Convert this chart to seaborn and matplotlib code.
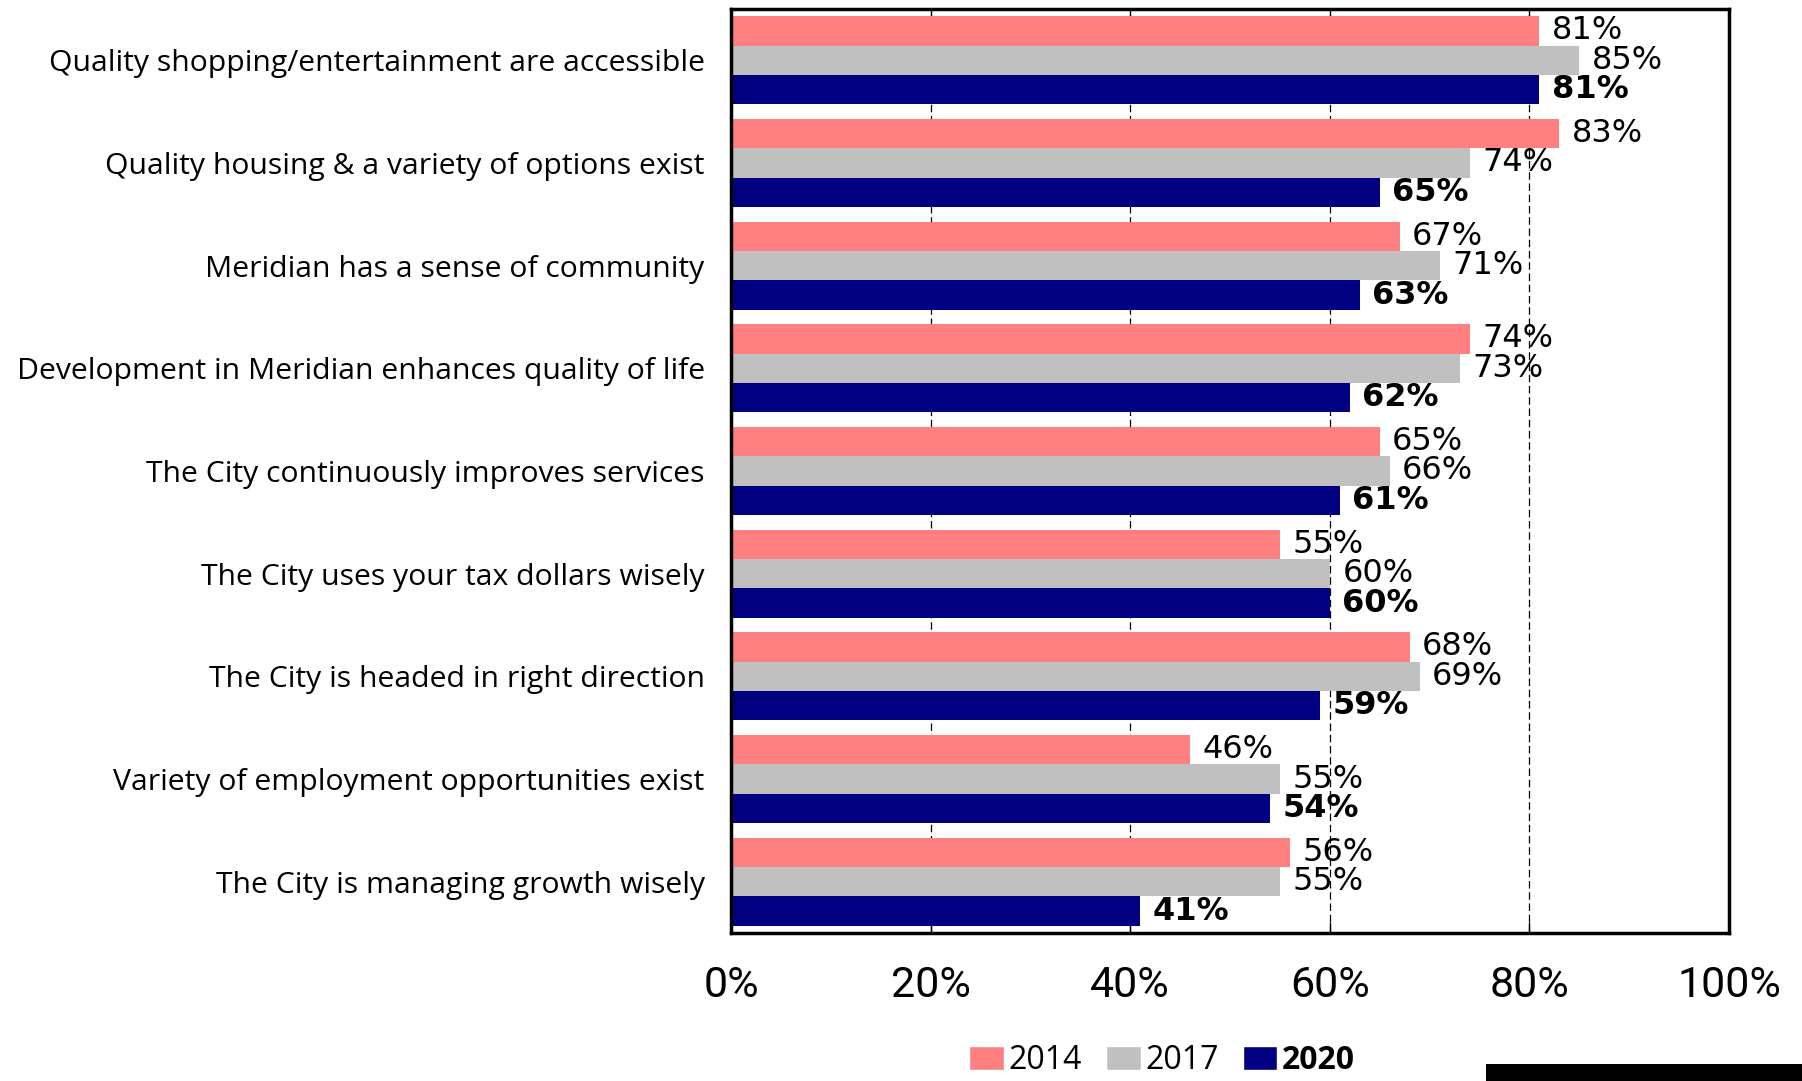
import pandas as pd
import matplotlib
matplotlib.use("Agg")
import matplotlib.pyplot as plt
from matplotlib.patches import Rectangle
from matplotlib.ticker import FuncFormatter
import seaborn as sns

categories = [
    "Quality shopping/entertainment are accessible",
    "Quality housing & a variety of options exist",
    "Meridian has a sense of community",
    "Development in Meridian enhances quality of life",
    "The City continuously improves services",
    "The City uses your tax dollars wisely",
    "The City is headed in right direction",
    "Variety of employment opportunities exist",
    "The City is managing growth wisely",
]
years = ["2014", "2017", "2020"]
vals_2014 = [81, 83, 67, 74, 65, 55, 68, 46, 56]
vals_2017 = [85, 74, 71, 73, 66, 60, 69, 55, 55]
vals_2020 = [81, 65, 63, 62, 61, 60, 59, 54, 41]
colors = ["#FF8080", "#C0C0C0", "#000080"]
x_ticks = [0, 20, 40, 60, 80, 100]

series = {"2014": vals_2014, "2017": vals_2017, "2020": vals_2020}
rows = []
for yr in years:
    for cat, v in zip(categories, series[yr]):
        rows.append({"Category": cat, "Year": yr, "Value": v})
df = pd.DataFrame(rows)

sns.set_style("white")
plt.rcParams["text.color"] = "black"
plt.rcParams["xtick.color"] = "black"
plt.rcParams["ytick.color"] = "black"
tick_font = ["Roboto", "DejaVu Sans"]
label_font = ["Open Sans", "DejaVu Sans"]

fig = plt.figure(figsize=(18.02, 10.81), dpi=100)
ax = fig.add_axes([0.4057, 0.1369, 0.5538, 0.8548])

sns.barplot(
    data=df, x="Value", y="Category", hue="Year", orient="h",
    hue_order=years, order=categories, palette=colors, saturation=1,
    width=0.86, errorbar=None, legend=False, linewidth=0, ax=ax,
)

# value labels
for yr, cont in zip(years, ax.containers):
    labs = [f"{v}%" for v in series[yr]]
    ax.bar_label(
        cont, labels=labs, padding=9, fontsize=23,
        fontweight="bold" if yr == "2020" else "normal",
        family="DejaVu Sans", color="black",
    )

ax.set_xlim(0, 100)
ax.set_xticks(x_ticks)
ax.xaxis.set_major_formatter(FuncFormatter(lambda x, p: f"{x:.0f}%"))
ax.set_xlabel("")
ax.set_ylabel("")

ax.set_axisbelow(True)
ax.xaxis.grid(True, color="black", linewidth=0.9, linestyle=(0, (6, 3)))
ax.yaxis.grid(False)

ax.tick_params(axis="x", direction="in", length=8, width=1, top=True,
               bottom=True, labelsize=31, pad=23, colors="black")
ax.tick_params(axis="y", length=0, pad=19, colors="black")
for lab in ax.get_xticklabels():
    lab.set_family(tick_font)
for lab in ax.get_yticklabels():
    lab.set_family(label_font)
    lab.set_fontsize(21.7)

for sp in ax.spines.values():
    sp.set_visible(True)
    sp.set_color("black")
    sp.set_linewidth(2.5)

# legend
handles = [Rectangle((0, 0), 1, 1, facecolor=c) for c in colors]
leg = fig.legend(
    handles, years, loc="center", bbox_to_anchor=(0.645, 0.019),
    ncol=3, frameon=False, prop={"family": label_font, "size": 23},
    handlelength=1.08, handleheight=0.8, handletextpad=0.15, columnspacing=0.75,
    borderpad=0.1,
)
for t in leg.get_texts():
    t.set_color("black")
leg.get_texts()[2].set_fontweight("bold")

# black bar at bottom right edge
fig.patches.append(Rectangle((0.8246, 0), 0.18, 0.0157, transform=fig.transFigure,
                             facecolor="black", edgecolor="none"))

fig.savefig("out.png", dpi=100)
